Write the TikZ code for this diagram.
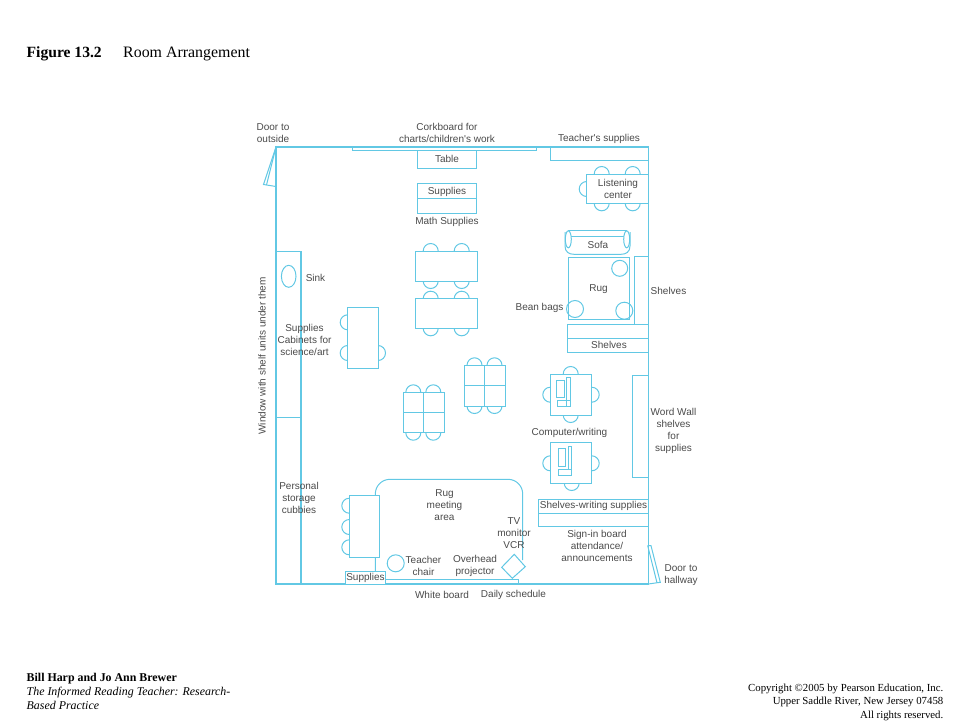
\documentclass[tikz,border=0pt]{standalone}
\usepackage{fontspec}
\setmainfont{Liberation Serif}
\newfontfamily\labelfont{Liberation Sans}
\definecolor{plan}{HTML}{62C8E4}
\definecolor{lbl}{HTML}{4A4A4A}
\tikzset{
  wall/.style={draw=plan,line width=1.3pt},
  thin/.style={draw=plan,line width=1pt},
  lab/.style={font=\labelfont\fontsize{10}{12}\selectfont,text=lbl,align=center,inner sep=0pt},
  foot/.style={font=\fontsize{10.8}{14}\selectfont,text=black,inner sep=0pt},
  footl/.style={inner sep=0pt,text=black,anchor=base west},
}
\newcommand{\chairT}[2]{\draw[thin] (#1-7.5,#2) arc[start angle=180,end angle=360,radius=7.5];}
\newcommand{\chairB}[2]{\draw[thin] (#1-7.5,#2) arc[start angle=180,end angle=0,radius=7.5];}
\newcommand{\chairL}[2]{\draw[thin] (#1,#2-7.5) arc[start angle=270,end angle=90,radius=7.5];}
\newcommand{\chairR}[2]{\draw[thin] (#1,#2-7.5) arc[start angle=-90,end angle=90,radius=7.5];}
\begin{document}
\begin{tikzpicture}[x=1pt,y=-1pt]
\useasboundingbox (0,0) rectangle (960,720);
% room
\draw[wall] (276,147) -- (648.3,147) -- (648.3,584) -- (276,584) -- cycle;
\draw[thin] (276,147) -- (263.5,184.5) -- (276,186.5);
\draw[thin] (276,147) -- (266.5,185);
\draw[thin] (352.3,147) -- (352.3,150.5) -- (536.7,150.5) -- (536.7,147);
\draw[thin] (417.7,150.5) rectangle (476.7,168.3);
\draw[thin] (417.7,183.7) rectangle (476.7,213.3);
\draw[thin] (417.7,198) -- (476.7,198);
% two tables
\chairT{430.7}{251}\chairT{461.7}{251}\chairB{430.7}{281}\chairB{461.7}{281}
\chairT{430.7}{298.7}\chairT{461.7}{298.7}\chairB{430.7}{328.3}\chairB{461.7}{328.3}
\draw[thin,fill=white] (415.7,251) rectangle (477.7,281);
\draw[thin,fill=white] (415.7,298.7) rectangle (477.7,328.3);
% left cabinets
\draw[wall] (276,251.3) -- (301,251.3) -- (301,584);
\draw[thin] (276,417.3) -- (301,417.3);
\draw[thin] (288.7,276.3) ellipse[x radius=7.3,y radius=11];
% science table
\chairL{347.7}{322.3}\chairL{347.7}{353}\chairR{378}{353}
\draw[thin,fill=white] (347.7,307.3) rectangle (378,368.7);
% four-seat groups
\chairT{413.3}{392.3}\chairT{433.3}{392.3}\chairB{413.3}{432.7}\chairB{433.3}{432.7}
\draw[thin,fill=white] (403,392.3) rectangle (444,432.7);
\draw[thin] (423.3,392.3) -- (423.3,432.7) (403,412.3) -- (444,412.3);
\chairT{474.5}{365.3}\chairT{494.5}{365.3}\chairB{474.5}{406}\chairB{494.5}{406}
\draw[thin,fill=white] (464,365.3) rectangle (505,406);
\draw[thin] (484.3,365.3) -- (484.3,406) (464,385.7) -- (505,385.7);
% rug meeting area
\draw[thin] (375.3,571) -- (375.3,494) arc[start angle=180,end angle=270,radius=14.7] -- (508,479.3) arc[start angle=270,end angle=360,radius=14.7] -- (522.7,560);
\draw[thin] (385.7,579) -- (518,579);
\draw[thin] (518,579) -- (518,584);
\chairL{349.3}{505.7}\chairL{349.3}{527}\chairL{349.3}{547.3}
\draw[thin,fill=white] (349.3,495.7) rectangle (379.3,557.3);
\draw[thin,fill=white] (345.3,571) rectangle (385.7,584);
\draw[thin] (395.7,563.3) circle[radius=8.5];
\draw[thin,fill=white] (514.3,554.3) -- (525.3,566.7) -- (512.3,578.3) -- (501.7,567.3) -- cycle;
% right side
\draw[thin] (550.3,147) rectangle (648.3,160);
\chairT{601.7}{174}\chairT{632.7}{174}\chairB{601.7}{203.3}\chairB{632.7}{203.3}\chairL{586.7}{189}
\draw[thin,fill=white] (586.7,174) rectangle (648.3,203.3);
% sofa
\draw[thin] (565,232) -- (565,246) .. controls (565,252) and (569,254.3) .. (574,254.3) -- (621,254.3) .. controls (626,254.3) and (630,252) .. (630,246) -- (630,232);
\draw[thin] (568,230.7) -- (627,230.7);
\draw[thin] (568,236.7) -- (627,236.7);
\draw[thin,fill=white] (568.3,239.3) ellipse[x radius=3,y radius=8.5];
\draw[thin,fill=white] (626.7,239.3) ellipse[x radius=3,y radius=8.5];
% rug
\draw[thin] (568.3,257.3) rectangle (629.7,319.3);
\draw[thin] (619.7,268.3) circle[radius=8];
\draw[thin] (575,309) circle[radius=8.5];
\draw[thin] (624.3,310.7) circle[radius=8.5];
\draw[thin] (634,256.7) rectangle (648.3,324.3);
\draw[thin] (567.7,324.3) rectangle (648.3,352.7);
\draw[thin] (567.7,338.7) -- (648.3,338.7);
% computer tables
\chairT{570.7}{374}\chairB{570.7}{415}\chairL{550.3}{394.7}\chairR{591.7}{394.7}
\draw[thin,fill=white] (550.3,374) rectangle (591.7,415);
\draw[thin] (556.3,380) rectangle (564.7,397.3);
\draw[thin] (566.3,377.7) rectangle (570,406.7);
\draw[thin] (557.3,400.7) rectangle (570,406.7);
\chairB{571.7}{483}\chairL{550.3}{463.3}\chairR{591.7}{463.3}
\draw[thin,fill=white] (550.3,442.3) rectangle (591.7,483);
\draw[thin] (558.3,448.3) rectangle (565.7,466.7);
\draw[thin] (568,446.7) rectangle (571.3,469.3);
\draw[thin] (558.7,469.3) rectangle (571.3,475.3);
% word wall, writing shelves
\draw[thin] (632.3,375) rectangle (648.3,477);
\draw[thin] (538.3,499.3) rectangle (648.3,526.7);
\draw[thin] (538.3,513.3) -- (648.3,513.3);
% right door
\draw[thin] (647.7,545.7) -- (651,545.7) -- (660.3,582.3) -- (648.3,584);
\draw[thin] (647.7,545.7) -- (657,582.8);
% labels
\node[lab] (doorout) at (273,132.8) {Door to\\outside};
\node[lab] (cork) at (447,132.8) {Corkboard for\\charts/children's work};
\node[lab] (teach) at (599,139) {Teacher's supplies};
\node[lab] (table) at (447,159) {Table};
\node[lab] (supp) at (447,191.5) {Supplies};
\node[lab] (math) at (447,221.5) {Math Supplies};
\node[lab] (listen) at (618,188.5) {Listening\\center};
\node[lab] (sofa) at (598,245) {Sofa};
\node[lab] (rug) at (598.5,289.5) {Rug};
\node[lab] (bean) at (539.5,307.5) {Bean bags};
\node[lab] (shelfa) at (668.5,290.5) {Shelves};
\node[lab] (shelfb) at (609,345.3) {Shelves};
\node[lab] (sink) at (315.5,278) {Sink};
\node[lab] (cab) at (304.5,339.5) {Supplies\\Cabinets for\\science/art};
\node[lab,rotate=90] (window) at (262,356) {Window with shelf units under them};
\node[lab] (cubby) at (299,497.5) {Personal\\storage\\cubbies};
\node[lab] (meet) at (444.5,505.3) {Rug\\meeting\\area};
\node[lab] (teachchair) at (423.5,565.5) {Teacher\\chair};
\node[lab] (over) at (475,565.5) {Overhead\\projector};
\node[lab] (tv) at (514,533.5) {TV\\monitor\\VCR};
\node[lab] (suppb) at (365.5,577.5) {Supplies};
\node[lab] (white) at (442,594.5) {White board};
\node[lab] (daily) at (513.5,594.5) {Daily schedule};
\node[lab] (comp) at (569.5,433) {Computer/writing};
\node[lab] (word) at (673.5,430.5) {Word Wall\\shelves\\for\\supplies};
\node[lab] (shw) at (593.5,505.8) {Shelves-writing supplies};
\node[lab] (sign) at (597,545.5) {Sign-in board\\attendance/\\announcements};
\node[lab] (doorh) at (681,575.5) {Door to\\hallway};
% title and footer
\node[footl,font=\bfseries\fontsize{15.6}{16}\selectfont] (fig) at (26.5,57) {Figure 13.2};
\node[footl,font=\fontsize{15.9}{16}\selectfont] (ttl) at (123,57) {Room Arrangement};
\node[footl,font=\bfseries\fontsize{11.9}{14}\selectfont] (au) at (26.5,681.5) {Bill Harp and Jo Ann Brewer};
\node[footl,font=\itshape\fontsize{11.9}{14}\selectfont] (bk1) at (26.5,695.5) {The Informed Reading Teacher: Research-};
\node[footl,font=\itshape\fontsize{11.9}{14}\selectfont] (bk2) at (26.5,709.3) {Based Practice};
\node[foot,anchor=base east] (cp1) at (943.5,691) {Copyright \textcopyright 2005 by Pearson Education, Inc.};
\node[foot,anchor=base east] (cp2) at (943.5,704.5) {Upper Saddle River, New Jersey 07458};
\node[foot,anchor=base east] (cp3) at (943.5,718) {All rights reserved.};
\end{tikzpicture}
\end{document}
